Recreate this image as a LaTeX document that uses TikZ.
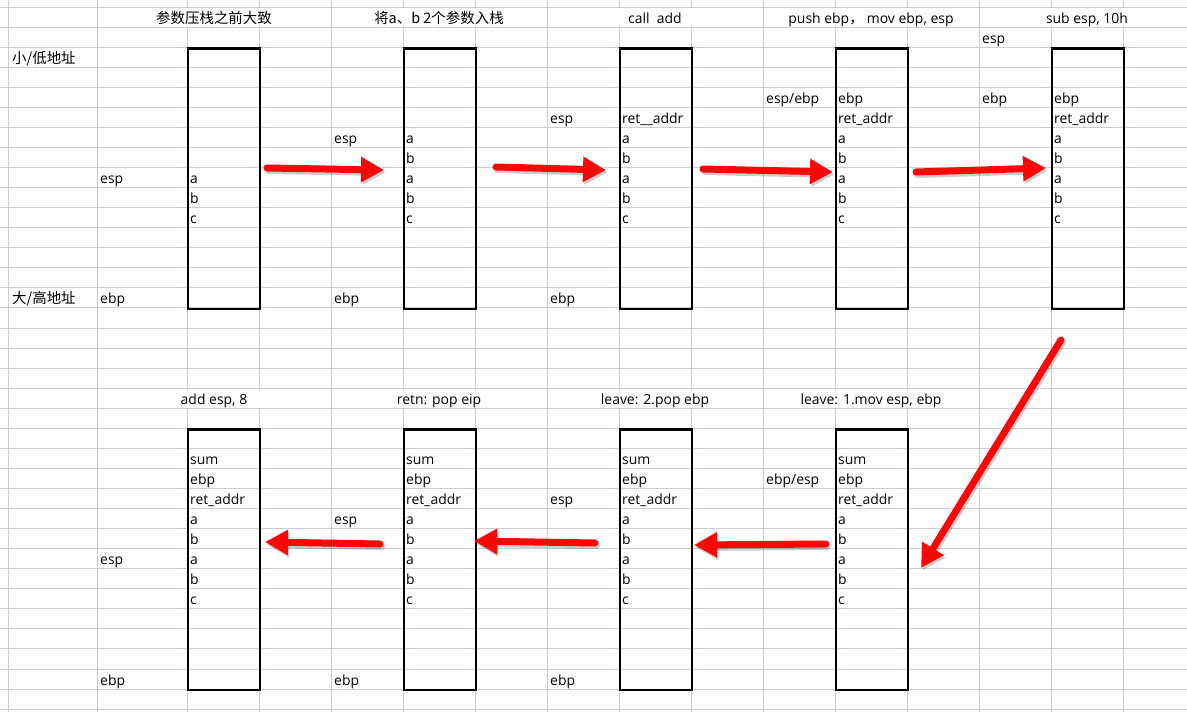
\documentclass[tikz,border=0pt]{standalone}
\usepackage{fontspec}
\setmainfont{Open Sans}
\newfontfamily\cjk{Noto Sans CJK SC}
\usetikzlibrary{arrows.meta}
\definecolor{GridGray}{RGB}{200,205,220}
\definecolor{ArrowRed}{RGB}{250,8,8}
\tikzset{
	declare function={rowl(\r)=7+20.06*\r; rowb(\r)=23.1+20.06*\r;},
	gridline/.style={draw=GridGray,line width=0.9bp},
	stack/.style={draw=black,line width=2.4bp,minimum width=72bp,minimum height=260.8bp,
		inner sep=0pt,anchor=north west},
	cell/.style={anchor=base west,inner sep=0pt,font=\fontsize{14}{17}\selectfont},
	head/.style={anchor=base,inner sep=0pt,font=\fontsize{14}{17}\selectfont},
	redarrow/.style={draw=ArrowRed,line width=7bp,line cap=round,
		-{Triangle[length=23bp,width=24bp]}},
	arrowshadow/.style={redarrow,draw=black,opacity=0.2,
		transform canvas={xshift=1.5bp,yshift=-2.5bp}},
}

\begin{document}
\begin{tikzpicture}[x=1bp,y=-1bp]
	\useasboundingbox (0,0) rectangle (1187,712);
	\fill[white] (0,0) rectangle (1187,712);
	% spreadsheet grid
	\foreach \r in {0,...,35}
		\draw[gridline] (0,{rowl(\r)}) -- (1187,{rowl(\r)});
	\foreach \x in {8,97,331,547,763,979}
		\draw[gridline] (\x,0) -- (\x,712);
	\foreach \x in {187,259,403,475,619,691,835,907} {
		\draw[gridline] (\x,0) -- (\x,{rowl(0)});
		\draw[gridline] (\x,{rowl(1)}) -- (\x,{rowl(19)});
		\draw[gridline] (\x,{rowl(20)}) -- (\x,712);
	}
	\foreach \x in {1051,1123} {
		\draw[gridline] (\x,0) -- (\x,{rowl(0)});
		\draw[gridline] (\x,{rowl(1)}) -- (\x,712);
	}

	% titles
	\node[head] (t-pre) at (214,{rowb(0)}) {\fontsize{14.5}{17}\cjk 参数压栈之前大致};
	\node[head] (t-push) at (439,{rowb(0)}) {\fontsize{14.5}{17}\cjk 将a、b 2个参数入栈};
	\node[head] (t-call) at (655,{rowb(0)}) {call\ \ add};
	\node[head] (t-enter) at (871,{rowb(0)}) {push ebp{\cjk ，} mov ebp, esp};
	\node[head] (t-sub) at (1087,{rowb(0)}) {sub esp, 10h};
	\node[head] (t-add) at (214,{rowb(19)}) {add esp, 8};
	\node[head] (t-retn) at (439,{rowb(19)}) {retn: pop eip};
	\node[head] (t-pop) at (655,{rowb(19)}) {leave: 2.pop ebp};
	\node[head] (t-mov) at (871,{rowb(19)}) {leave: 1.mov esp, ebp};

	% address direction
	\node[cell] (lo) at (12,{rowb(2)}) {\fontsize{14.5}{17}\cjk 小/低地址};
	\node[cell] (hi) at (12,{rowb(14)}) {\fontsize{14.5}{17}\cjk 大/高地址};

	% upper stacks
	\node[stack] (pre) at (187,{rowl(2)}) {};
	\node[stack] (push) at (403,{rowl(2)}) {};
	\node[stack] (call) at (619,{rowl(2)}) {};
	\node[stack] (enter) at (835,{rowl(2)}) {};
	\node[stack] (sub) at (1051,{rowl(2)}) {};
	\foreach \r/\t in {8/a,9/b,10/c}
		\node[cell] (pre\r) at (190,{rowb(\r)}) {\t};
	\foreach \n/\X in {push/403,call/619,enter/835,sub/1051}
		\foreach \r/\t in {6/a,7/b,8/a,9/b,10/c}
			\node[cell] (\n\r) at ({\X+3},{rowb(\r)}) {\t};
	\node[cell] (call5) at (622,{rowb(5)}) {ret\_\_addr};
	\node[cell] (enter4) at (838,{rowb(4)}) {ebp};
	\node[cell] (enter5) at (838,{rowb(5)}) {ret\_addr};
	\node[cell] (sub4) at (1054,{rowb(4)}) {ebp};
	\node[cell] (sub5) at (1054,{rowb(5)}) {ret\_addr};
	\node[cell] (pre-esp) at (100,{rowb(8)}) {esp};
	\node[cell] (pre-ebp) at (100,{rowb(14)}) {ebp};
	\node[cell] (push-esp) at (334,{rowb(6)}) {esp};
	\node[cell] (push-ebp) at (334,{rowb(14)}) {ebp};
	\node[cell] (call-esp) at (550,{rowb(5)}) {esp};
	\node[cell] (call-ebp) at (550,{rowb(14)}) {ebp};
	\node[cell] (enter-esp) at (766,{rowb(4)}) {esp/ebp};
	\node[cell] (sub-esp) at (982,{rowb(1)}) {esp};
	\node[cell] (sub-ebp) at (982,{rowb(4)}) {ebp};

	% lower stacks
	\node[stack] (add) at (187,{rowl(21)}) {};
	\node[stack] (retn) at (403,{rowl(21)}) {};
	\node[stack] (pop) at (619,{rowl(21)}) {};
	\node[stack] (mov) at (835,{rowl(21)}) {};
	\foreach \n/\X in {add/187,retn/403,pop/619,mov/835}
		\foreach \r/\t in {22/sum,23/ebp,24/ret\_addr,25/a,26/b,27/a,28/b,29/c}
			\node[cell] (\n\r) at ({\X+3},{rowb(\r)}) {\t};
	\node[cell] (add-esp) at (100,{rowb(27)}) {esp};
	\node[cell] (add-ebp) at (100,{rowb(33)}) {ebp};
	\node[cell] (retn-esp) at (334,{rowb(25)}) {esp};
	\node[cell] (retn-ebp) at (334,{rowb(33)}) {ebp};
	\node[cell] (pop-esp) at (550,{rowb(24)}) {esp};
	\node[cell] (pop-ebp) at (550,{rowb(33)}) {ebp};
	\node[cell] (mov-esp) at (766,{rowb(23)}) {ebp/esp};

	% red arrows between the steps
	\coordinate (p1) at (267,168);  \coordinate (q1) at (384,170);
	\coordinate (p2) at (496,167);  \coordinate (q2) at (606,170);
	\coordinate (p3) at (703,169);  \coordinate (q3) at (833,172);
	\coordinate (p4) at (916,172);  \coordinate (q4) at (1046,168);
	\coordinate (p5) at (1061,340); \coordinate (q5) at (921,568);
	\coordinate (p6) at (826,544);  \coordinate (q6) at (694,545);
	\coordinate (p7) at (595,543);  \coordinate (q7) at (474,541);
	\coordinate (p8) at (380,544);  \coordinate (q8) at (265,542);
	\foreach \i in {1,...,8} {
		\draw[arrowshadow] (p\i) -- (q\i);
		\draw[redarrow] (p\i) -- (q\i);
	}
\end{tikzpicture}
\end{document}
